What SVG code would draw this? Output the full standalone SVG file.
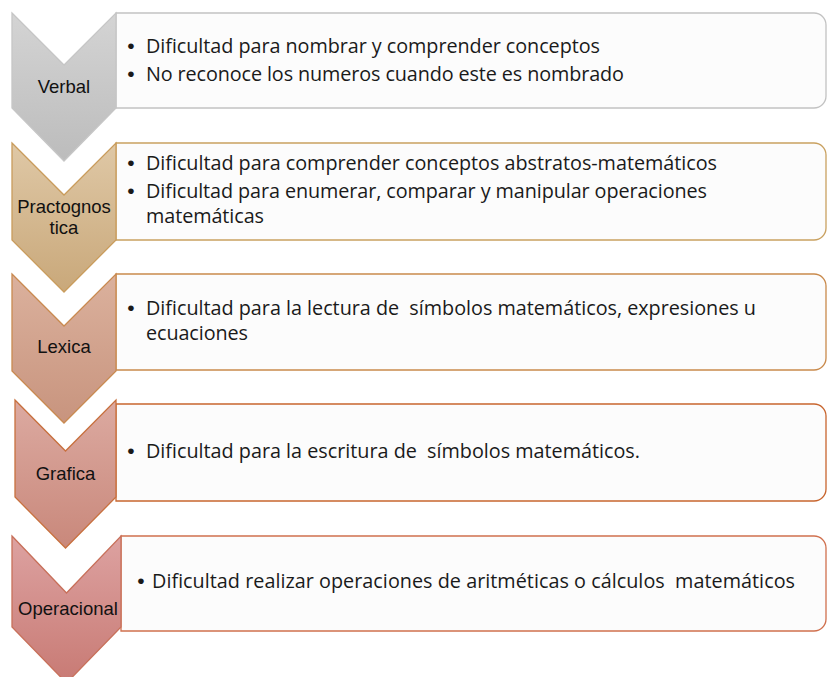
<svg xmlns="http://www.w3.org/2000/svg" width="827" height="677" viewBox="0 0 827 677">
<defs>
<linearGradient id="g1" x1="0" y1="0" x2="0" y2="1"><stop offset="0" stop-color="#d4d4d4"/><stop offset="1" stop-color="#bcbcbc"/></linearGradient>
<linearGradient id="g2" x1="0" y1="0" x2="0" y2="1"><stop offset="0" stop-color="#dfc8a6"/><stop offset="1" stop-color="#c9a87a"/></linearGradient>
<linearGradient id="g3" x1="0" y1="0" x2="0" y2="1"><stop offset="0" stop-color="#dbb19d"/><stop offset="1" stop-color="#c8947e"/></linearGradient>
<linearGradient id="g4" x1="0" y1="0" x2="0" y2="1"><stop offset="0" stop-color="#dcaaa1"/><stop offset="1" stop-color="#c9887b"/></linearGradient>
<linearGradient id="g5" x1="0" y1="0" x2="0" y2="1"><stop offset="0" stop-color="#dda2a1"/><stop offset="1" stop-color="#c87a74"/></linearGradient>
</defs>
<style>
.box{fill:#fcfcfc;stroke-width:1.3}
.chev{stroke-width:1.3}
.lab{font-family:"Liberation Sans",Arial,sans-serif;font-size:18.5px;fill:#111;text-anchor:middle}
.txt{font-family:"Open Sans","Noto Sans",sans-serif;font-size:19.8px;fill:#1a1a1a;white-space:pre}
.bul{font-family:"Liberation Sans",Arial,sans-serif;font-size:21px;fill:#1a1a1a;text-anchor:middle}
</style>
<rect width="827" height="677" fill="#ffffff"/>
<g id="connectors"></g>

<g id="node-verbal">
<path class="box" stroke="#c2c2c2" d="M116 13 H814 A12 12 0 0 1 826 25 V96 A12 12 0 0 1 814 108 H116 Z"/>
<path class="chev" fill="url(#g1)" stroke="#c6c6c6" d="M12 13 L64 65 L116 13 V108 L64 161 L12 108 Z"/>
<text class="lab" x="64" y="93">Verbal</text>
<text class="bul" x="131" y="53">•</text>
<text class="txt" x="146" y="53" textLength="454" lengthAdjust="spacing">Dificultad para nombrar y comprender conceptos</text>
<text class="bul" x="131" y="81">•</text>
<text class="txt" x="146" y="81" textLength="478" lengthAdjust="spacing">No reconoce los numeros cuando este es nombrado</text>
</g>

<g id="node-practognostica">
<path class="box" stroke="#c9a160" d="M116 143 H814 A12 12 0 0 1 826 155 V228 A12 12 0 0 1 814 240 H116 Z"/>
<path class="chev" fill="url(#g2)" stroke="#c99c5c" d="M12 143 L64 195 L116 143 V240 L64 292 L12 240 Z"/>
<text class="lab" x="64" y="213">Practognos</text>
<text class="lab" x="64" y="234">tica</text>
<text class="bul" x="131" y="170">•</text>
<text class="txt" x="146" y="170" textLength="571" lengthAdjust="spacing">Dificultad para comprender conceptos abstratos-matemáticos</text>
<text class="bul" x="131" y="198">•</text>
<text class="txt" x="146" y="198" textLength="561" lengthAdjust="spacing">Dificultad para enumerar, comparar y manipular operaciones</text>
<text class="txt" x="146" y="223" textLength="118" lengthAdjust="spacing">matemáticas</text>
</g>

<g id="node-lexica">
<path class="box" stroke="#c98a4c" d="M116 274 H814 A12 12 0 0 1 826 286 V358 A12 12 0 0 1 814 370 H116 Z"/>
<path class="chev" fill="url(#g3)" stroke="#c98a50" d="M12 274 L64 326 L116 274 V371 L64 423 L12 371 Z"/>
<text class="lab" x="64" y="353">Lexica</text>
<text class="bul" x="131" y="315">•</text>
<text class="txt" x="146" y="315" textLength="610" lengthAdjust="spacing">Dificultad para la lectura de  símbolos matemáticos, expresiones u</text>
<text class="txt" x="146" y="340" textLength="102" lengthAdjust="spacing">ecuaciones</text>
</g>

<g id="node-grafica">
<path class="box" stroke="#c8652e" d="M116 404 H814 A12 12 0 0 1 826 416 V489 A12 12 0 0 1 814 501 H116 Z"/>
<path class="chev" fill="url(#g4)" stroke="#c8703e" d="M15 400 L65.5 451 L116 400 V497 L65.5 548 L15 497 Z"/>
<text class="lab" x="65.5" y="480">Grafica</text>
<text class="bul" x="131" y="458">•</text>
<text class="txt" x="146" y="458" textLength="494" lengthAdjust="spacing">Dificultad para la escritura de  símbolos matemáticos.</text>
</g>

<g id="node-operacional">
<path class="box" stroke="#d0704e" d="M121 536 H814 A12 12 0 0 1 826 548 V619 A12 12 0 0 1 814 631 H121 Z"/>
<path class="chev" fill="url(#g5)" stroke="#c8705a" d="M12 536 L66.5 593 L121 536 V627 L66.5 683 L12 627 Z"/>
<text class="lab" x="68" y="615">Operacional</text>
<text class="bul" x="141" y="588">•</text>
<text class="txt" x="152" y="588" textLength="643" lengthAdjust="spacing">Dificultad realizar operaciones de aritméticas o cálculos  matemáticos</text>
</g>
</svg>
